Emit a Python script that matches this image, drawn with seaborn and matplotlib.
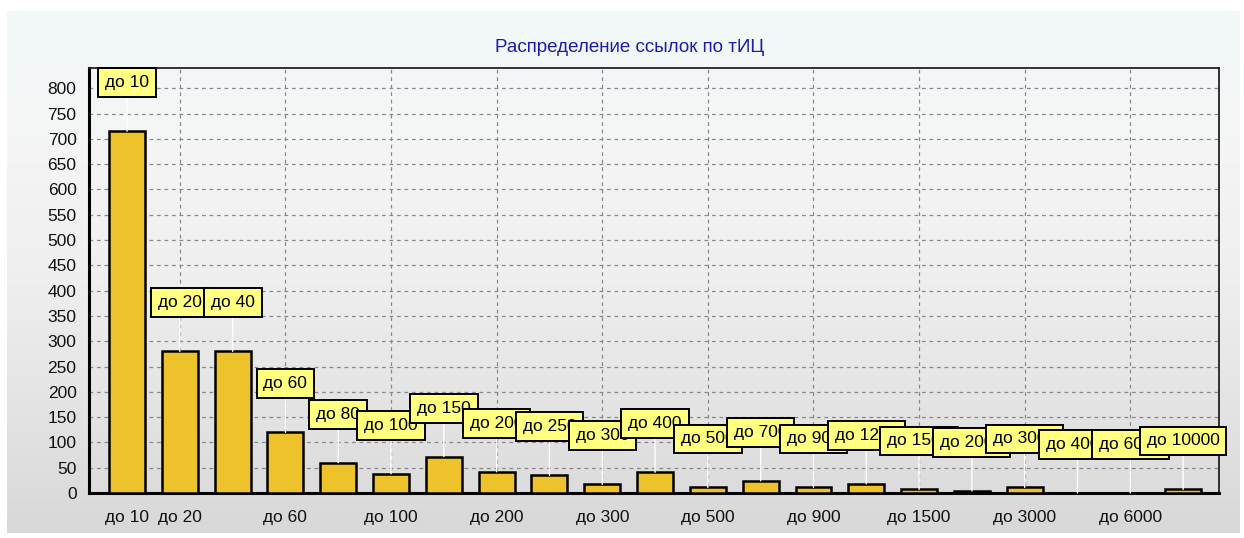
import numpy as np
import pandas as pd
import matplotlib
matplotlib.use("Agg")
import matplotlib.pyplot as plt
from matplotlib.colors import LinearSegmentedColormap
from matplotlib.ticker import MultipleLocator, FixedLocator
import seaborn as sns

# ---- data ----
categories = ["до 10", "до 20", "до 40", "до 60", "до 80", "до 100", "до 150",
              "до 200", "до 250", "до 300", "до 400", "до 500", "до 700",
              "до 900", "до 1200", "до 1500", "до 2000", "до 3000", "до 4000",
              "до 6000", "до 10000"]
values = [715, 280, 280, 120, 60, 38, 72, 42, 35, 17, 41, 11, 24, 11, 18, 7,
          4, 11, 0, 0, 7]
tick_labels = ["до 10", "до 20", "до 60", "до 100", "до 200", "до 300",
               "до 500", "до 900", "до 1500", "до 3000", "до 6000"]
grid_labels = tick_labels[1:]
title = "Распределение ссылок по тИЦ"

sns.set_style("white")
plt.rcParams["font.family"] = ["Liberation Sans", "DejaVu Sans"]

W, H = 1244, 538
fig = plt.figure(figsize=(W / 100, H / 100), dpi=100)
fig.patch.set_facecolor("white")

# background panel with vertical gradient
bg = fig.add_axes([7 / W, 5 / H, (1240 - 7) / W, (533 - 11) / H], zorder=-10)
cmap = LinearSegmentedColormap.from_list(
    "bg", ["#d8d8d8", "#e4e4e4", "#efefef", "#f5f5f5", "#f2f8f8"])
grad = np.linspace(0, 1, 256).reshape(-1, 1)
bg.imshow(grad, aspect="auto", cmap=cmap, origin="lower", extent=[0, 1, 0, 1])
bg.set_axis_off()

left, right, top, bottom = 89, 1219, 68, 493
ax = fig.add_axes([left / W, 1 - bottom / H, (right - left) / W, (bottom - top) / H])
ax.set_facecolor("none")

df = pd.DataFrame({"cat": categories, "val": values})
sns.barplot(data=df, x="cat", y="val", order=categories, color="#EEC22B",
            saturation=1, edgecolor="black", linewidth=1.8, width=0.68, ax=ax,
            zorder=3)

ax.set_xlim(-0.72, 20.68)
ax.set_ylim(0, 840)
ax.set_xlabel("")
ax.set_ylabel("")

FS = 12.5

# ticks
ax.xaxis.set_major_locator(FixedLocator([categories.index(t) for t in tick_labels]))
ax.set_xticklabels(tick_labels)
ax.xaxis.set_minor_locator(MultipleLocator(1 / 3))
ax.yaxis.set_major_locator(MultipleLocator(50))
ax.yaxis.set_minor_locator(MultipleLocator(10))
ax.tick_params(axis="both", which="major", labelsize=FS, colors="#222222",
               labelcolor="#111111")
ax.tick_params(axis="x", which="major", direction="out", length=6, width=1, pad=6)
ax.tick_params(axis="x", which="minor", direction="out", length=3, width=0.8,
               colors="#555555")
ax.tick_params(axis="y", which="major", direction="out", length=6, width=1, pad=3)
ax.tick_params(axis="y", which="minor", direction="inout", length=3, width=0.8,
               colors="#333333")

# grid
for yv in range(50, 801, 50):
    ax.axhline(yv, color="#8a8a8a", lw=0.9, ls=(0, (3, 3)), zorder=1)
for g in grid_labels:
    ax.axvline(categories.index(g), color="#8a8a8a", lw=0.9, ls=(0, (3, 3)), zorder=1)

# spines
for s in ["left", "bottom"]:
    ax.spines[s].set_linewidth(2.2)
    ax.spines[s].set_color("black")
for s in ["top", "right"]:
    ax.spines[s].set_linewidth(1.3)
    ax.spines[s].set_color("#222222")
    ax.spines[s].set_visible(True)

# labels above bars
for i, (c, v) in enumerate(zip(categories, values)):
    ax.annotate(c, xy=(i, v), xytext=(0, 29.5), textcoords="offset points",
                ha="center", va="bottom", fontsize=FS, color="black",
                bbox=dict(boxstyle="square,pad=0.4", fc="#FFFF80", ec="black", lw=1.4),
                arrowprops=dict(arrowstyle="-", color="white", lw=1,
                                shrinkA=0, shrinkB=0),
                zorder=5 + i)

fig.text(629.5 / W, 1 - 47 / H, title, ha="center", va="center",
         fontsize=13.5, color="#1c1ca8")

fig.savefig("out.png", dpi=100, facecolor=fig.get_facecolor())
